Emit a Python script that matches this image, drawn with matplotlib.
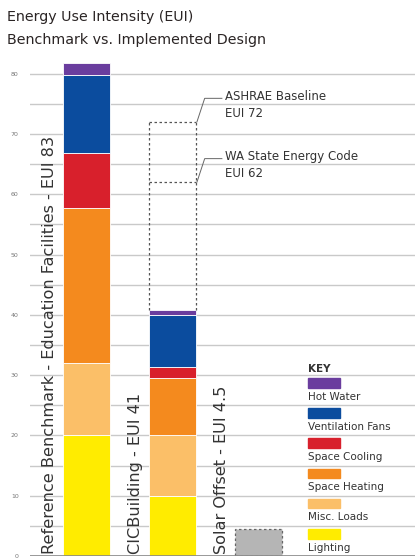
import matplotlib.pyplot as plt
from matplotlib.patches import Rectangle

# stacked components, bottom to top
components = ['Lighting', 'Misc. Loads', 'Space Heating', 'Space Cooling',
              'Ventilation Fans', 'Hot Water']
colors = ['#FFEC00', '#FBBF68', '#F48A1E', '#D8202C', '#0B4C9E', '#6A3D9E']
benchmark = [20, 12, 25.7, 9.1, 13.0, 2.0]
cic_building = [10, 10, 9.5, 1.9, 8.6, 0.8]
solar_offset = 4.5
ashrae_eui = 72
wa_code_eui = 62
bar_labels = ['Reference Benchmark - Education Facilities - EUI 83',
              'CICBuilding - EUI 41',
              'Solar Offset - EUI 4.5']
yticks = [0, 10, 20, 30, 40, 50, 60, 70, 80]

fig = plt.figure(figsize=(4.15, 5.58), dpi=100)
ax = fig.add_axes([0.072, 0.0036, 0.928, 0.9077])
ax.set_xlim(-0.657, 3.82)
ax.set_ylim(0, 84)

# grid every 5
for g in range(5, 85, 5):
    ax.axhline(g, color='#c9c9c9', lw=1.0, zorder=0)
ax.axhline(0, color='#888888', lw=1.2, zorder=3)

w = 0.55
for x, vals in [(0, benchmark), (1, cic_building)]:
    bottom = 0
    for v, c in zip(vals, colors):
        ax.bar(x, v, width=w, bottom=bottom, color=c, edgecolor='white',
               linewidth=0.6, zorder=2)
        bottom += v

# dashed outline for code baselines above CIC bar
top_cic = sum(cic_building)
x0, x1 = 1 - w / 2, 1 + w / 2
dash = dict(color='#555555', lw=0.9, ls=(0, (2, 2)), zorder=3)
ax.plot([x0, x0], [top_cic, ashrae_eui], **dash)
ax.plot([x1, x1], [top_cic, ashrae_eui], **dash)
ax.plot([x0, x1], [ashrae_eui, ashrae_eui], **dash)
ax.plot([x0, x1], [wa_code_eui, wa_code_eui], **dash)

# solar offset box
ax.bar(2, solar_offset, width=w, color='#b5b5b5', edgecolor='#666666',
       linewidth=0.9, linestyle=(0, (2, 2)), zorder=2)

# leader lines + annotations
for eui, name in [(ashrae_eui, 'ASHRAE Baseline'), (wa_code_eui, 'WA State Energy Code')]:
    ax.plot([x1 + 0.01, x1 + 0.1, x1 + 0.3], [eui, eui + 3.9, eui + 3.9],
            color='#666666', lw=0.7, zorder=3)
    ax.text(x1 + 0.34, eui + 4.2, name, fontsize=8.5, color='#333333',
            va='center', ha='left')
    ax.text(x1 + 0.34, eui + 1.4, 'EUI %d' % eui, fontsize=8.5, color='#333333',
            va='center', ha='left')

# rotated bar labels
for x, lab in zip([0, 1, 2], bar_labels):
    ax.text(x - 0.43, 0.3, lab, rotation=90, fontsize=11.6, color='#333333',
            ha='center', va='bottom')

# key
kx = 2.575
ax.text(kx, 31, 'KEY', fontsize=7.5, fontweight='bold', color='#333333',
        va='center', ha='left')
for i, (name, c) in enumerate(zip(components[::-1], colors[::-1])):
    yb = 27.9 - 5.0 * i
    ax.add_patch(Rectangle((kx, yb), 0.37, 1.6, color=c, zorder=3))
    ax.text(kx, yb - 1.5, name, fontsize=7.5, color='#333333', va='center',
            ha='left')

ax.set_yticks(yticks)
ax.set_yticklabels([str(t) for t in yticks], fontsize=4.5, color='#777777')
ax.tick_params(axis='y', length=0, pad=8)
ax.set_xticks([])
for s in ax.spines.values():
    s.set_visible(False)

fig.text(0.017, 0.969, 'Energy Use Intensity (EUI)', fontsize=10.3,
         color='#2a2424', va='center', ha='left')
fig.text(0.017, 0.928, 'Benchmark vs. Implemented Design', fontsize=10.3,
         color='#2a2424', va='center', ha='left')

fig.savefig('out.png', dpi=100)
